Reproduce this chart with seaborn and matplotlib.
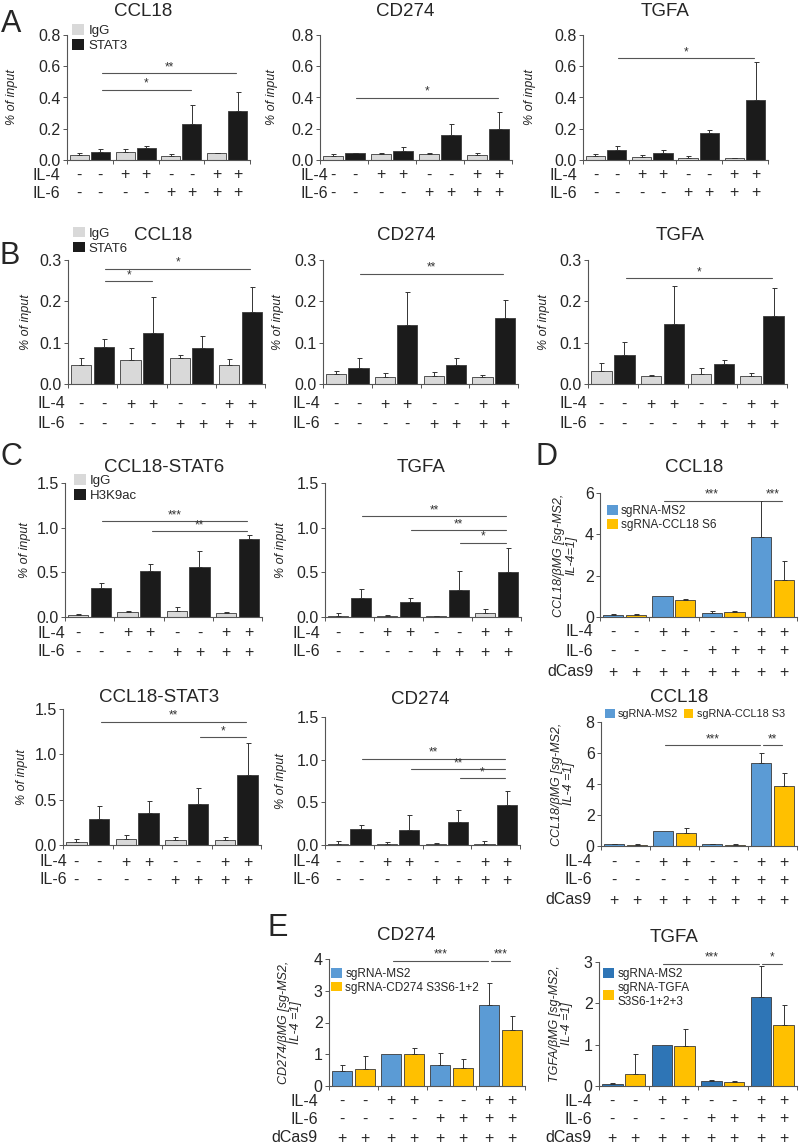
import numpy as np
import pandas as pd
import matplotlib.pyplot as plt
import seaborn as sns
from matplotlib.patches import Patch
from matplotlib.ticker import FormatStrFormatter, MultipleLocator
from matplotlib.transforms import blended_transform_factory

W, H = 800, 1145

groups = ["g1", "g2", "g3", "g4"]
il4 = ["-", "-", "+", "+", "-", "-", "+", "+"]
il6 = ["-", "-", "-", "-", "+", "+", "+", "+"]
dcas9 = ["+"] * 8

IGG = "#d9d9d9"
DARK = "#1b1b1b"
BLUE = "#5b9bd5"
BLUE_DARK = "#2e75b6"
YELLOW = "#ffc000"

# A - STAT3 ChIP
a_ccl18_igg, a_ccl18_igg_sd = [0.03, 0.05, 0.025, 0.045], [0.012, 0.02, 0.012, 0.003]
a_ccl18_stat3, a_ccl18_stat3_sd = [0.05, 0.075, 0.23, 0.315], [0.02, 0.012, 0.12, 0.12]
a_cd274_igg, a_cd274_igg_sd = [0.026, 0.036, 0.037, 0.033], [0.012, 0.009, 0.011, 0.01]
a_cd274_stat3, a_cd274_stat3_sd = [0.043, 0.06, 0.163, 0.196], [0.005, 0.025, 0.065, 0.113]
a_tgfa_igg, a_tgfa_igg_sd = [0.025, 0.018, 0.015, 0.01], [0.012, 0.017, 0.01, 0.005]
a_tgfa_stat3, a_tgfa_stat3_sd = [0.065, 0.043, 0.175, 0.385], [0.025, 0.022, 0.02, 0.245]

# B - STAT6 ChIP
b_ccl18_igg, b_ccl18_igg_sd = [0.045, 0.058, 0.062, 0.046], [0.017, 0.03, 0.008, 0.014]
b_ccl18_stat6, b_ccl18_stat6_sd = [0.09, 0.124, 0.088, 0.173], [0.02, 0.086, 0.027, 0.062]
b_cd274_igg, b_cd274_igg_sd = [0.023, 0.017, 0.02, 0.018], [0.008, 0.01, 0.009, 0.003]
b_cd274_stat6, b_cd274_stat6_sd = [0.039, 0.142, 0.047, 0.159], [0.023, 0.08, 0.015, 0.045]
b_tgfa_igg, b_tgfa_igg_sd = [0.031, 0.019, 0.024, 0.02], [0.019, 0.002, 0.015, 0.007]
b_tgfa_stat6, b_tgfa_stat6_sd = [0.07, 0.146, 0.049, 0.165], [0.032, 0.09, 0.01, 0.068]

# C - H3K9ac ChIP
c_s6_igg, c_s6_igg_sd = [0.025, 0.06, 0.07, 0.045], [0.005, 0.008, 0.04, 0.008]
c_s6_h3, c_s6_h3_sd = [0.327, 0.52, 0.558, 0.873], [0.058, 0.07, 0.18, 0.05]
c_tgfa_igg, c_tgfa_igg_sd = [0.015, 0.008, 0.008, 0.046], [0.025, 0.015, 0.005, 0.04]
c_tgfa_h3, c_tgfa_h3_sd = [0.21, 0.17, 0.3, 0.5], [0.1, 0.04, 0.21, 0.27]
c_s3_igg, c_s3_igg_sd = [0.037, 0.066, 0.06, 0.05], [0.03, 0.044, 0.03, 0.035]
c_s3_h3, c_s3_h3_sd = [0.29, 0.355, 0.45, 0.77], [0.14, 0.135, 0.18, 0.36]
c_cd274_igg, c_cd274_igg_sd = [0.01, 0.008, 0.008, 0.012], [0.035, 0.025, 0.012, 0.035]
c_cd274_h3, c_cd274_h3_sd = [0.19, 0.18, 0.27, 0.47], [0.04, 0.17, 0.14, 0.16]

# D - CRISPRi CCL18
d1_ms2, d1_ms2_sd = [0.1, 1.0, 0.2, 3.87], [0.04, 0.0, 0.07, 1.73]
d1_s6, d1_s6_sd = [0.12, 0.8, 0.22, 1.8], [0.04, 0.08, 0.06, 0.92]
d2_ms2, d2_ms2_sd = [0.1, 0.97, 0.1, 5.33], [0.02, 0.0, 0.03, 0.65]
d2_s3, d2_s3_sd = [0.08, 0.86, 0.08, 3.87], [0.02, 0.3, 0.02, 0.86]

# E - CRISPRi CD274 / TGFA
e_cd_ms2, e_cd_ms2_sd = [0.47, 1.0, 0.67, 2.54], [0.2, 0.0, 0.37, 0.7]
e_cd_sg, e_cd_sg_sd = [0.52, 1.02, 0.58, 1.77], [0.43, 0.18, 0.28, 0.43]
e_tg_ms2, e_tg_ms2_sd = [0.05, 1.0, 0.12, 2.15], [0.02, 0.0, 0.03, 0.75]
e_tg_sg, e_tg_sg_sd = [0.28, 0.96, 0.1, 1.48], [0.5, 0.41, 0.02, 0.49]

sns.set_style("ticks")
plt.rcParams["font.family"] = ["Liberation Sans", "DejaVu Sans"]
fig = plt.figure(figsize=(8, 11.45), dpi=100)


def fy(y):
    return 1 - y / H


def draw(box, names, colors, means, sds, ymax, step, fmt, title, title_xy,
         ylabel, ylabel_x, row_x, row_y, rows, sig, leg=None):
    l, t, r, b = box
    ax = fig.add_axes([l / W, 1 - b / H, (r - l) / W, (b - t) / H])
    df = pd.DataFrame({
        "group": groups * 2,
        "series": [names[0]] * 4 + [names[1]] * 4,
        "value": list(means[0]) + list(means[1]),
    })
    sns.barplot(data=df, x="group", y="value", hue="series", order=groups,
                hue_order=names, palette=dict(zip(names, colors)),
                saturation=1, errorbar=None, width=0.92, gap=0.1,
                edgecolor="#3a3a3a", linewidth=0.6, legend=False, ax=ax)
    bars = sorted(ax.patches, key=lambda p: p.get_x())
    xs = np.array([p.get_x() + p.get_width() / 2 for p in bars])
    ys = np.array([p.get_height() for p in bars])
    es = np.array([sds[k][i] for i in range(4) for k in range(2)])
    m = es > 0
    ax.errorbar(xs[m], ys[m], yerr=[np.zeros(m.sum()), es[m]], fmt="none",
                ecolor="#333333", elinewidth=0.7, capsize=1.8, capthick=0.7)
    for i, j, h, s in sig:
        ax.plot([xs[i] + 0.03, xs[j] - 0.03], [h, h], color="#555555", lw=0.8,
                clip_on=False)
        ax.text((xs[i] + xs[j]) / 2, h, s, ha="center", va="bottom",
                fontsize=8.5, color="#333333", clip_on=False)
    ax.set_xlim(-0.5, 3.5)
    ax.set_ylim(0, ymax)
    ax.yaxis.set_major_locator(MultipleLocator(step))
    ax.yaxis.set_major_formatter(FormatStrFormatter(fmt))
    ax.set_xticks([-0.5, 0.5, 1.5, 2.5, 3.5])
    ax.set_xticklabels([])
    ax.set_xlabel("")
    ax.tick_params(axis="both", length=3, width=0.7, color="#555555",
                   labelsize=11.5, pad=1.5)
    for sp in ["top", "right"]:
        ax.spines[sp].set_visible(False)
    for sp in ["left", "bottom"]:
        ax.spines[sp].set_color("#555555")
        ax.spines[sp].set_linewidth(0.8)
    ax.set_ylabel(ylabel, fontsize=9, style="italic", linespacing=1.0,
                  va="center")
    ax.yaxis.set_label_coords((ylabel_x - l) / (r - l), 0.5)
    fig.text(title_xy[0] / W, fy(title_xy[1]), title, ha="center",
             va="center", fontsize=13.5)
    trans = blended_transform_factory(ax.transData, fig.transFigure)
    for (name, signs), y in zip(rows, row_y):
        fig.text(row_x / W, fy(y), name, ha="right", va="center", fontsize=11.5)
        for x, s in zip(xs, signs):
            ax.text(x, fy(y), s, transform=trans, ha="center", va="center",
                    fontsize=11.5, clip_on=False)
    if leg is not None:
        anchor, fs, ncol = leg
        handles = [Patch(facecolor=c, edgecolor="none", label=n)
                   for n, c in zip(names, colors)]
        ax.legend(handles=handles, loc="upper left", bbox_to_anchor=anchor,
                  fontsize=fs, ncol=ncol, frameon=False, handlelength=0.9,
                  handleheight=0.9, handletextpad=0.3, labelspacing=0.15,
                  columnspacing=0.5, borderaxespad=0, borderpad=0)
    return ax


rows2 = [("IL-4", il4), ("IL-6", il6)]
rows3 = [("IL-4", il4), ("IL-6", il6), ("dCas9", dcas9)]
chip = "% of input"

# A
draw((67, 35, 250, 160), ["IgG", "STAT3"], [IGG, DARK],
     [a_ccl18_igg, a_ccl18_stat3], [a_ccl18_igg_sd, a_ccl18_stat3_sd],
     0.8, 0.2, "%.1f", "CCL18", (143, 12), chip, 12, 60, [175, 193], rows2,
     [(1, 5, 0.45, "*"), (1, 7, 0.555, "**")], ((0.03, 1.09), 9.5, 1))
draw((320, 35, 512, 160), ["IgG", "STAT3"], [IGG, DARK],
     [a_cd274_igg, a_cd274_stat3], [a_cd274_igg_sd, a_cd274_stat3_sd],
     0.8, 0.2, "%.1f", "CD274", (405, 12), chip, 272, 328, [175, 193], rows2,
     [(1, 7, 0.4, "*")])
draw((583, 35, 768, 160), ["IgG", "STAT3"], [IGG, DARK],
     [a_tgfa_igg, a_tgfa_stat3], [a_tgfa_igg_sd, a_tgfa_stat3_sd],
     0.8, 0.2, "%.1f", "TGFA", (665, 12), chip, 530, 577, [175, 193], rows2,
     [(1, 7, 0.65, "*")])

# B
draw((68, 260, 265, 384), ["IgG", "STAT6"], [IGG, DARK],
     [b_ccl18_igg, b_ccl18_stat6], [b_ccl18_igg_sd, b_ccl18_stat6_sd],
     0.3, 0.1, "%.1f", "CCL18", (163, 235), chip, 26, 65, [404, 424], rows2,
     [(1, 3, 0.248, "*"), (1, 7, 0.279, "*")], ((0.025, 1.27), 9.5, 1))
draw((323, 260, 518, 384), ["IgG", "STAT6"], [IGG, DARK],
     [b_cd274_igg, b_cd274_stat6], [b_cd274_igg_sd, b_cd274_stat6_sd],
     0.3, 0.1, "%.1f", "CD274", (406, 236), chip, 278, 320, [404, 424], rows2,
     [(1, 7, 0.267, "**")])
draw((588, 260, 787, 384), ["IgG", "STAT6"], [IGG, DARK],
     [b_tgfa_igg, b_tgfa_stat6], [b_tgfa_igg_sd, b_tgfa_stat6_sd],
     0.3, 0.1, "%.1f", "TGFA", (680, 236), chip, 544, 587, [404, 424], rows2,
     [(1, 7, 0.256, "*")])

# C
draw((65, 483, 262, 617), ["IgG", "H3K9ac"], [IGG, DARK],
     [c_s6_igg, c_s6_h3], [c_s6_igg_sd, c_s6_h3_sd],
     1.5, 0.5, "%.1f", "CCL18-STAT6", (164, 468), chip, 25, 65, [633, 652], rows2,
     [(1, 7, 1.07, "***"), (3, 7, 0.96, "**")], ((0.045, 1.07), 9.5, 1))
draw((325, 483, 521, 617), ["IgG", "H3K9ac"], [IGG, DARK],
     [c_tgfa_igg, c_tgfa_h3], [c_tgfa_igg_sd, c_tgfa_h3_sd],
     1.5, 0.5, "%.1f", "TGFA", (421, 468), chip, 281, 320, [633, 652], rows2,
     [(1, 7, 1.13, "**"), (3, 7, 0.97, "**"), (5, 7, 0.83, "*")])
draw((63, 709, 261, 845), ["IgG", "H3K9ac"], [IGG, DARK],
     [c_s3_igg, c_s3_h3], [c_s3_igg_sd, c_s3_h3_sd],
     1.5, 0.5, "%.1f", "CCL18-STAT3", (159, 697), chip, 22, 67, [862, 880], rows2,
     [(1, 7, 1.36, "**"), (5, 7, 1.19, "*")])
draw((325, 717, 520, 845), ["IgG", "H3K9ac"], [IGG, DARK],
     [c_cd274_igg, c_cd274_h3], [c_cd274_igg_sd, c_cd274_h3_sd],
     1.5, 0.5, "%.1f", "CD274", (420, 700), chip, 281, 320, [862, 880], rows2,
     [(1, 7, 1.01, "**"), (3, 7, 0.89, "**"), (5, 7, 0.78, "*")])

# D
draw((600, 493, 797, 617), ["sgRNA-MS2", "sgRNA-CCL18 S6"], [BLUE, YELLOW],
     [d1_ms2, d1_s6], [d1_ms2_sd, d1_s6_sd],
     6, 2, "%d", "CCL18", (694, 467), "CCL18/βMG [sg-MS2,\nIL-4=1]", 565, 593,
     [632, 651, 672], rows3,
     [(2, 6, 5.62, "***"), (6, 7, 5.62, "***")], ((0.035, 0.9), 8.5, 1))
draw((601, 722, 797, 846), ["sgRNA-MS2", "sgRNA-CCL18 S3"], [BLUE, YELLOW],
     [d2_ms2, d2_s3], [d2_ms2_sd, d2_s3_sd],
     8, 2, "%d", "CCL18", (679, 697), "CCL18/βMG [sg-MS2,\nIL-4 =1]", 563, 592,
     [862, 880, 900], rows3,
     [(2, 6, 6.5, "***"), (6, 7, 6.5, "**")], ((0.02, 1.105), 7.8, 2))

# E
draw((329, 959, 525, 1086), ["sgRNA-MS2", "sgRNA-CD274 S3S6-1+2"], [BLUE, YELLOW],
     [e_cd_ms2, e_cd_sg], [e_cd_ms2_sd, e_cd_sg_sd],
     4, 1, "%d", "CD274", (406, 936), "CD274/βMG [sg-MS2,\nIL-4 =1]", 290, 318,
     [1101, 1119, 1138], rows3,
     [(2, 6, 3.95, "***"), (6, 7, 3.95, "***")], ((0.01, 0.93), 8.5, 1))
draw((599, 962, 797, 1086), ["sgRNA-MS2", "sgRNA-TGFA\nS3S6-1+2+3"], [BLUE_DARK, YELLOW],
     [e_tg_ms2, e_tg_sg], [e_tg_ms2_sd, e_tg_sg_sd],
     3, 1, "%d", "TGFA", (674, 937), "TGFA/βMG [sg-MS2,\nIL-4 =1]", 561, 592,
     [1101, 1119, 1138], rows3,
     [(2, 6, 2.96, "***"), (6, 7, 2.96, "*")], ((0.02, 0.95), 8.5, 1))

for letter, x, y in [("A", 11, 24), ("B", 10, 256), ("C", 11, 457),
                     ("D", 546, 457), ("E", 278, 928)]:
    fig.text(x / W, fy(y), letter, ha="center", va="center", fontsize=22)

fig.savefig("out.png", dpi=100)
